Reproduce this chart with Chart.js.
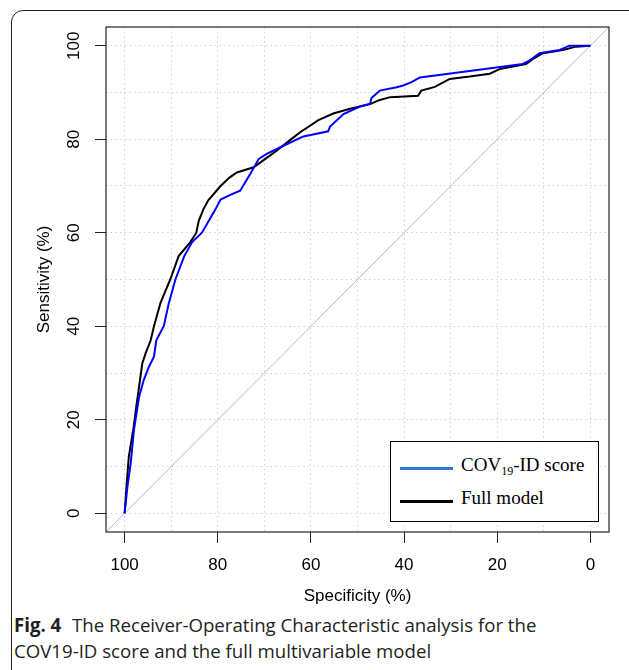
<!DOCTYPE html>
<html lang="en">
<head>
    <meta charset="UTF-8">
    <title>ROC analysis: COV19-ID score vs full model</title>
    <script src="https://cdn.jsdelivr.net/npm/chart.js"></script>
    <style>
        html, body {
            margin: 0;
            padding: 0;
            background: #fff;
            overflow: hidden;
        }
        .page {
            position: relative;
            width: 629px;
            height: 670px;
        }
        .frame {
            position: absolute;
            left: 11px;
            top: 10px;
            width: 640px;
            height: 700px;
            border: 1.5px solid #222;
            border-radius: 12px;
        }
        .chart-box {
            position: absolute;
            left: 0;
            top: 0;
            width: 629px;
            height: 610px;
        }
        #legend {
            position: absolute;
            left: 390px;
            top: 441px;
            width: 209px;
            height: 81px;
            box-sizing: border-box;
            border: 1px solid #000;
            background: #fff;
            font-family: "Liberation Serif", "Times New Roman", serif;
            font-size: 19px;
            color: #000;
        }
        #legend .row {
            position: absolute;
            left: 0;
            height: 24px;
            line-height: 24px;
            width: 100%;
        }
        #legend .swatch {
            position: absolute;
            left: 9px;
            top: 14px;
            width: 53px;
            height: 2.5px;
        }
        #legend .label {
            position: absolute;
            left: 70px;
            top: 0;
            white-space: nowrap;
        }
        #legend sub {
            font-size: 12px;
            vertical-align: baseline;
            position: relative;
            top: 4px;
        }
        #caption {
            position: absolute;
            left: 14px;
            top: 612px;
            font-family: "Open Sans", sans-serif;
            font-size: 19px;
            line-height: 26px;
            color: #231f20;
            white-space: nowrap;
            transform-origin: left top;
        }
        #caption b {
            font-weight: 700;
            margin-right: 6px;
        }
    </style>
</head>
<body>
<div class="page">
    <div class="frame"></div>
    <div class="chart-box">
        <canvas id="chart"></canvas>
    </div>
    <div id="legend">
        <div class="row" style="top: 11px;">
            <span class="swatch" style="background: #2b7bd0;"></span>
            <span class="label">COV<sub>19</sub>-ID score</span>
        </div>
        <div class="row" style="top: 44px;">
            <span class="swatch" style="background: #000;"></span>
            <span class="label">Full model</span>
        </div>
    </div>
    <div id="caption">
        <div id="capLine1"><b>Fig. 4</b> The Receiver-Operating Characteristic analysis for the</div>
        <div>COV19-ID score and the full multivariable model</div>
    </div>
</div>

<script>
    // Full multivariable model ROC (specificity %, sensitivity %)
    const fullSpec = [100, 99.6, 99.1, 98.1, 97.5, 96.7, 96.2, 95.5, 94.4, 93.7, 92.3, 90.2, 88.4, 85.9, 84.6,
        84.1, 83.1, 82.0, 79.4, 77.5, 75.9, 72.3, 69.5, 67.3, 64.5, 62.3, 58.4, 55.2, 51.6, 47.3, 45.2, 43.0,
        37.0, 36.3, 33.4, 30.2, 25.9, 21.6, 19.5, 13.8, 12.4, 10.2, 5.9, 3.1, 0];
    const fullSens = [0, 5.7, 12.1, 18.2, 22.8, 28.5, 32.1, 34.2, 37.0, 40.0, 45.0, 50.0, 55.0, 58.0, 60.0,
        62.5, 65.0, 67.0, 70.0, 71.8, 72.9, 74.0, 76.0, 77.6, 79.8, 81.5, 84.1, 85.5, 86.5, 87.5, 88.4, 89.0,
        89.3, 90.4, 91.2, 92.9, 93.4, 94.0, 95.0, 96.1, 97.1, 98.4, 99.1, 99.8, 100];

    // COV19-ID score ROC
    const covSpec = [100, 99.4, 98.7, 98.0, 96.9, 95.9, 94.8, 93.7, 93.2, 91.6, 90.5, 89.1, 87.2, 85.5, 83.4,
        80.5, 79.4, 77.3, 75.2, 73.0, 71.2, 69.4, 65.9, 61.6, 56.3, 55.9, 53.0, 49.5, 47.3, 47.0, 45.2, 41.6,
        40.2, 38.4, 36.6, 14.5, 13.1, 10.9, 6.6, 4.5, 0];
    const covSens = [0, 5.7, 10.7, 17.8, 24.9, 28.5, 31.3, 33.5, 37.0, 40.0, 45.0, 50.0, 55.0, 58.0, 60.0,
        65.0, 67.1, 68.1, 69.0, 72.6, 75.8, 76.9, 78.6, 80.6, 81.7, 82.7, 85.4, 87.0, 87.6, 88.8, 90.4, 91.1,
        91.5, 92.2, 93.2, 96.1, 96.8, 98.4, 99.1, 100, 100];

    // chance line, corner to corner of the plot region
    const refSpec = [104, -4];
    const refSens = [-4, 104];

    // axis ticks (grid every 10, labels every 20)
    const gridTicks = [0, 10, 20, 30, 40, 50, 60, 70, 80, 90, 100];
    const axisMin = -4;
    const axisMax = 104;

    function toPoints(xs, ys) {
        return xs.map((x, i) => ({ x: x, y: ys[i] }));
    }

    const tickFont = { family: '"Liberation Sans", Arial, sans-serif', size: 17 };

    function axisOptions(title, isX) {
        return {
            type: 'linear',
            min: axisMin,
            max: axisMax,
            reverse: isX,
            afterBuildTicks: (scale) => {
                scale.ticks = gridTicks.map(v => ({ value: v }));
            },
            afterFit: (scale) => {
                if (isX) scale.height = 78;
                else scale.width = 106;
            },
            grid: {
                color: '#d0d0d0',
                lineWidth: 1,
                tickLength: 11,
                tickWidth: 1,
                tickColor: (ctx) => (ctx.tick && ctx.tick.value % 20 === 0) ? '#222' : 'rgba(0,0,0,0)'
            },
            border: {
                display: false,
                dash: [1.5, 3.2]
            },
            ticks: {
                autoSkip: false,
                color: '#000',
                font: tickFont,
                padding: isX ? 12 : 7,
                minRotation: isX ? 0 : 90,
                maxRotation: isX ? 0 : 90,
                crossAlign: isX ? 'near' : 'center',
                callback: (v) => (v % 20 === 0 ? String(v) : '')
            },
            title: {
                display: true,
                text: title,
                color: '#000',
                font: tickFont,
                padding: isX ? { top: 0, bottom: 3 } : { top: 34, bottom: 0 }
            }
        };
    }

    // box around the plotting region
    const boxPlugin = {
        id: 'plotBox',
        afterDraw(chart) {
            const a = chart.chartArea;
            const c = chart.ctx;
            c.save();
            c.strokeStyle = '#222';
            c.lineWidth = 1.2;
            c.strokeRect(a.left, a.top, a.right - a.left, a.bottom - a.top);
            c.restore();
        }
    };

    const ctx = document.getElementById('chart').getContext('2d');
    const chart = new Chart(ctx, {
        type: 'scatter',
        data: {
            datasets: [
                {
                    label: 'COV19-ID score',
                    data: toPoints(covSpec, covSens),
                    showLine: true,
                    borderColor: '#0000ff',
                    borderWidth: 2,
                    pointRadius: 0,
                    tension: 0
                },
                {
                    label: 'Full model',
                    data: toPoints(fullSpec, fullSens),
                    showLine: true,
                    borderColor: '#000000',
                    borderWidth: 2,
                    pointRadius: 0,
                    tension: 0
                },
                {
                    label: 'Reference',
                    data: toPoints(refSpec, refSens),
                    showLine: true,
                    borderColor: '#b8b8b8',
                    borderWidth: 1,
                    pointRadius: 0
                }
            ]
        },
        options: {
            responsive: true,
            maintainAspectRatio: false,
            animation: false,
            layout: {
                padding: { top: 27, right: 20, left: 0, bottom: 0 }
            },
            plugins: {
                legend: { display: false },
                tooltip: { enabled: false }
            },
            scales: {
                x: axisOptions('Specificity (%)', true),
                y: axisOptions('Sensitivity (%)', false)
            }
        },
        plugins: [boxPlugin]
    });

    // squeeze caption to the width used in the figure
    const cap = document.getElementById('caption');
    const line1 = document.getElementById('capLine1');
    const w = line1.scrollWidth;
    if (w > 0) cap.style.transform = 'scaleX(' + (523 / w).toFixed(3) + ')';
</script>
</body>
</html>
